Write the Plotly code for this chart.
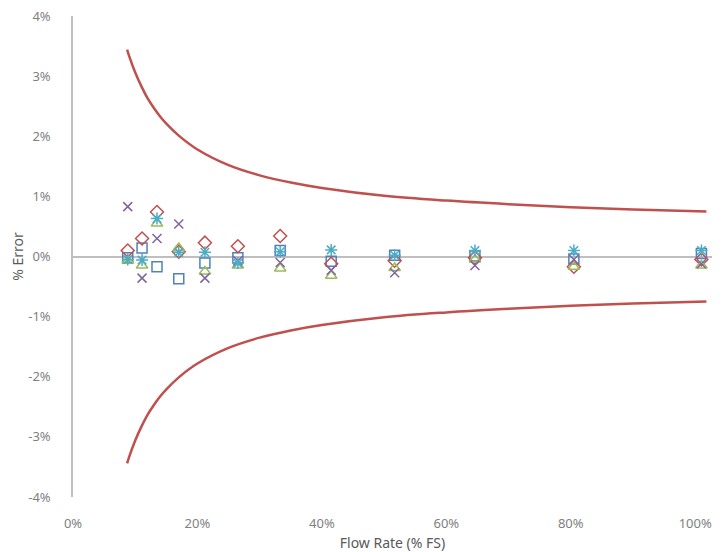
import plotly.graph_objects as go

# Flow rate positions (% FS as fraction)
flow = [0.088, 0.111, 0.135, 0.170, 0.212, 0.265, 0.333, 0.415, 0.517, 0.646, 0.805, 1.010]

# % error values (fraction) for each series
err_blue   = [-0.0002, 0.0014, -0.0017, -0.0037, -0.0011, -0.0002, 0.0010, -0.0008, 0.0002, 0.0001, -0.0004, 0.0005]
err_red    = [0.0010, 0.0030, 0.0074, 0.0008, 0.0023, 0.0017, 0.0034, -0.0012, -0.0007, -0.0002, -0.0017, -0.0005]
err_green  = [-0.0007, -0.0015, 0.0055, 0.0014, -0.0025, -0.0015, -0.0020, -0.0032, -0.0019, -0.0005, -0.0017, -0.0015]
err_purple = [0.0083, -0.0036, 0.0030, 0.0054, -0.0036, -0.0007, -0.0010, -0.0023, -0.0027, -0.0015, -0.0005, -0.0012]
err_aqua   = [-0.0005, -0.0006, 0.0063, 0.0007, 0.0007, -0.0011, 0.0008, 0.0011, 0.0002, 0.0010, 0.0010, 0.0010]

# Accuracy limit curve
limit_x = [0.087, 0.09, 0.10, 0.11, 0.12, 0.13, 0.14, 0.15, 0.17, 0.20, 0.25, 0.30, 0.35, 0.40,
           0.50, 0.60, 0.70, 0.80, 0.90, 1.018]
limit_hi = [0.0344, 0.0334, 0.0306, 0.0283, 0.0263, 0.0247, 0.0233, 0.0221, 0.0201, 0.0178,
            0.0152, 0.0135, 0.0123, 0.0114, 0.0101, 0.0093, 0.0087, 0.0082, 0.0078, 0.0075]
limit_lo = [-v for v in limit_hi]

y_tickvals = [-0.04, -0.03, -0.02, -0.01, 0, 0.01, 0.02, 0.03, 0.04]
y_ticktext = ["-4%", "-3%", "-2%", "-1%", "0%", "1%", "2%", "3%", "4%"]
x_tickvals = [0, 0.2, 0.4, 0.6, 0.8, 1.0]
x_ticktext = ["0%", "20%", "40%", "60%", "80%", "100%"]

fig = go.Figure()

red_line = "#C0504D"
fig.add_trace(go.Scatter(x=limit_x, y=limit_hi, mode="lines", line=dict(color=red_line, width=2.5, shape="spline"), hoverinfo="skip"))
fig.add_trace(go.Scatter(x=limit_x, y=limit_lo, mode="lines", line=dict(color=red_line, width=2.5, shape="spline"), hoverinfo="skip"))

series = [
    (err_blue, "#4F81BD", "square-open", 10),
    (err_red, "#C0504D", "diamond-open", 10),
    (err_green, "#9BBB59", "triangle-up-open", 10),
    (err_purple, "#8064A2", "x-thin-open", 9),
    (err_aqua, "#4BACC6", "asterisk-open", 10),
]
for ys, col, sym, sz in series:
    fig.add_trace(go.Scatter(x=flow, y=ys, mode="markers",
                             marker=dict(symbol=sym, size=sz, color=col, line=dict(color=col, width=1.5))))

font = "Noto Sans"
fig.update_layout(
    width=718, height=544,
    margin=dict(l=65, r=14, t=8, b=55),
    paper_bgcolor="white", plot_bgcolor="white",
    showlegend=False,
    font=dict(family=font, size=13, color="#7F7F7F"),
    xaxis=dict(range=[0, 1.027], tickvals=x_tickvals, ticktext=x_ticktext,
               showgrid=False, zeroline=False, showline=False, ticks="",
               ticklabelstandoff=17, automargin=False, ticklabeloverflow="allow",
               title=dict(text="Flow Rate (% FS)", font=dict(size=14, color="#595959"), standoff=8)),
    yaxis=dict(range=[-0.04, 0.04], tickvals=y_tickvals, ticktext=y_ticktext,
               showgrid=False, zeroline=True, zerolinecolor="#BFBFBF", zerolinewidth=1.5,
               showline=True, linecolor="#BFBFBF", linewidth=1.5, ticks="",
               ticklabelstandoff=18, automargin=False, ticklabeloverflow="allow",
               title=dict(text="% Error", font=dict(size=14, color="#595959"), standoff=8)),
)

fig.write_html("out.html")
